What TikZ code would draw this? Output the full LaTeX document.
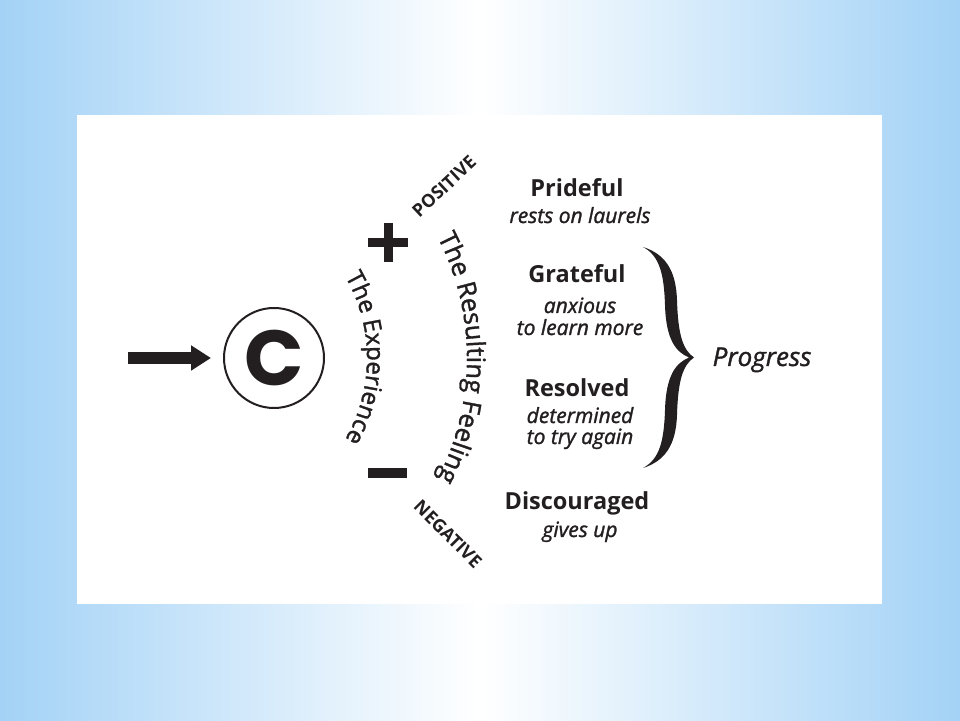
\documentclass[tikz,border=0pt]{standalone}
\usepackage{fontspec}
\setmainfont{Open Sans}
\newfontfamily\medfont{Open Sans}[FakeBold=1.4]
\newfontfamily\cfont{Poppins}
\usepackage{tikz}
\usetikzlibrary{
    arrows.meta,
    decorations.text,
    calc,
    positioning
}
\definecolor{bgblue}{RGB}{163,210,246}
\definecolor{ink}{RGB}{35,31,32}

\begin{document}
\begin{tikzpicture}[x=1pt, y=1pt,
    feel/.style={font=\bfseries\fontsize{23.5}{28}\selectfont, text=ink, anchor=base, inner sep=0pt},
    note/.style={font=\medfont\itshape\fontsize{21}{25}\selectfont, text=ink, anchor=base, inner sep=0pt},
    sign/.style={font=\bfseries\fontsize{18}{21}\selectfont, text=ink, inner sep=0pt}]
    \useasboundingbox (0,0) rectangle (960,720);
    \shade[left color=bgblue, right color=bgblue, middle color=white] (0,0) rectangle (960,720);
    \fill[white] (77,116) rectangle (882,605);

    \coordinate (hub) at (205,362);
    \coordinate (in) at (128,362);
    \node[draw=ink, circle, line width=2pt, minimum size=100pt, inner sep=0pt,
          font=\cfont\bfseries\fontsize{78}{80}\selectfont, text=ink] (exp) at (274,362) {C};
    \draw[ink, line width=12pt, -{Triangle[length=20pt, width=24pt]}, shorten >=12pt] (in) -- (exp);

    % the two arcs of text
    \path[decorate, decoration={text along path, text align=center, text color=ink,
          text={|\medfont\fontsize{24}{28}\selectfont|The Experience}}]
        ($(hub)+(45:162)$) arc[start angle=45, end angle=-45, radius=162];
    \path[decorate, decoration={text along path, text align=center, text color=ink,
          text={|\medfont\fontsize{25.5}{30}\selectfont|The Resulting Feeling}}]
        ($(hub)+(40:262)$) arc[start angle=40, end angle=-40, radius=262];

    % plus and minus
    \fill[ink] (368,472.5) rectangle (408,481.5);
    \fill[ink] (383.5,458) rectangle (392.5,497);
    \fill[ink] (368,242) rectangle (407,252);
    \node[sign, rotate=43] (pos) at (444,533.5) {POSITIVE};
    \node[sign, rotate=-45] (neg) at (448,186) {NEGATIVE};

    \node[feel] (pride) at (577,523) {Prideful};
    \node[note] (pridenote) at (580,497) {rests on laurels};
    \node[feel] (grate) at (577,437) {Grateful};
    \node[note] (gratenote) at (580,407) {anxious};
    \node[note] (gratenote2) at (580,385) {to learn more};
    \node[feel] (resol) at (577,323) {Resolved};
    \node[note] (resolnote) at (580,297) {determined};
    \node[note] (resolnote2) at (580,276) {to try again};
    \node[feel] (disc) at (577,210) {Discouraged};
    \node[note] (discnote) at (580,183) {gives up};

    % brace
    \fill[ink] (643,473) .. controls (665,466) and (676,450) .. (677,420)
        .. controls (678,385) and (683,370) .. (694,362.5)
        .. controls (683,355) and (678,340) .. (677,305)
        .. controls (676,275) and (665,259) .. (643,252)
        .. controls (660,261) and (664,280) .. (665,310)
        .. controls (666,345) and (676,357) .. (689,362.5)
        .. controls (676,368) and (666,380) .. (665,415)
        .. controls (664,445) and (660,464) .. (643,473) -- cycle;
    \node[note, font=\medfont\itshape\fontsize{26}{30}\selectfont] (prog) at (762,354) {Progress};
\end{tikzpicture}
\end{document}
